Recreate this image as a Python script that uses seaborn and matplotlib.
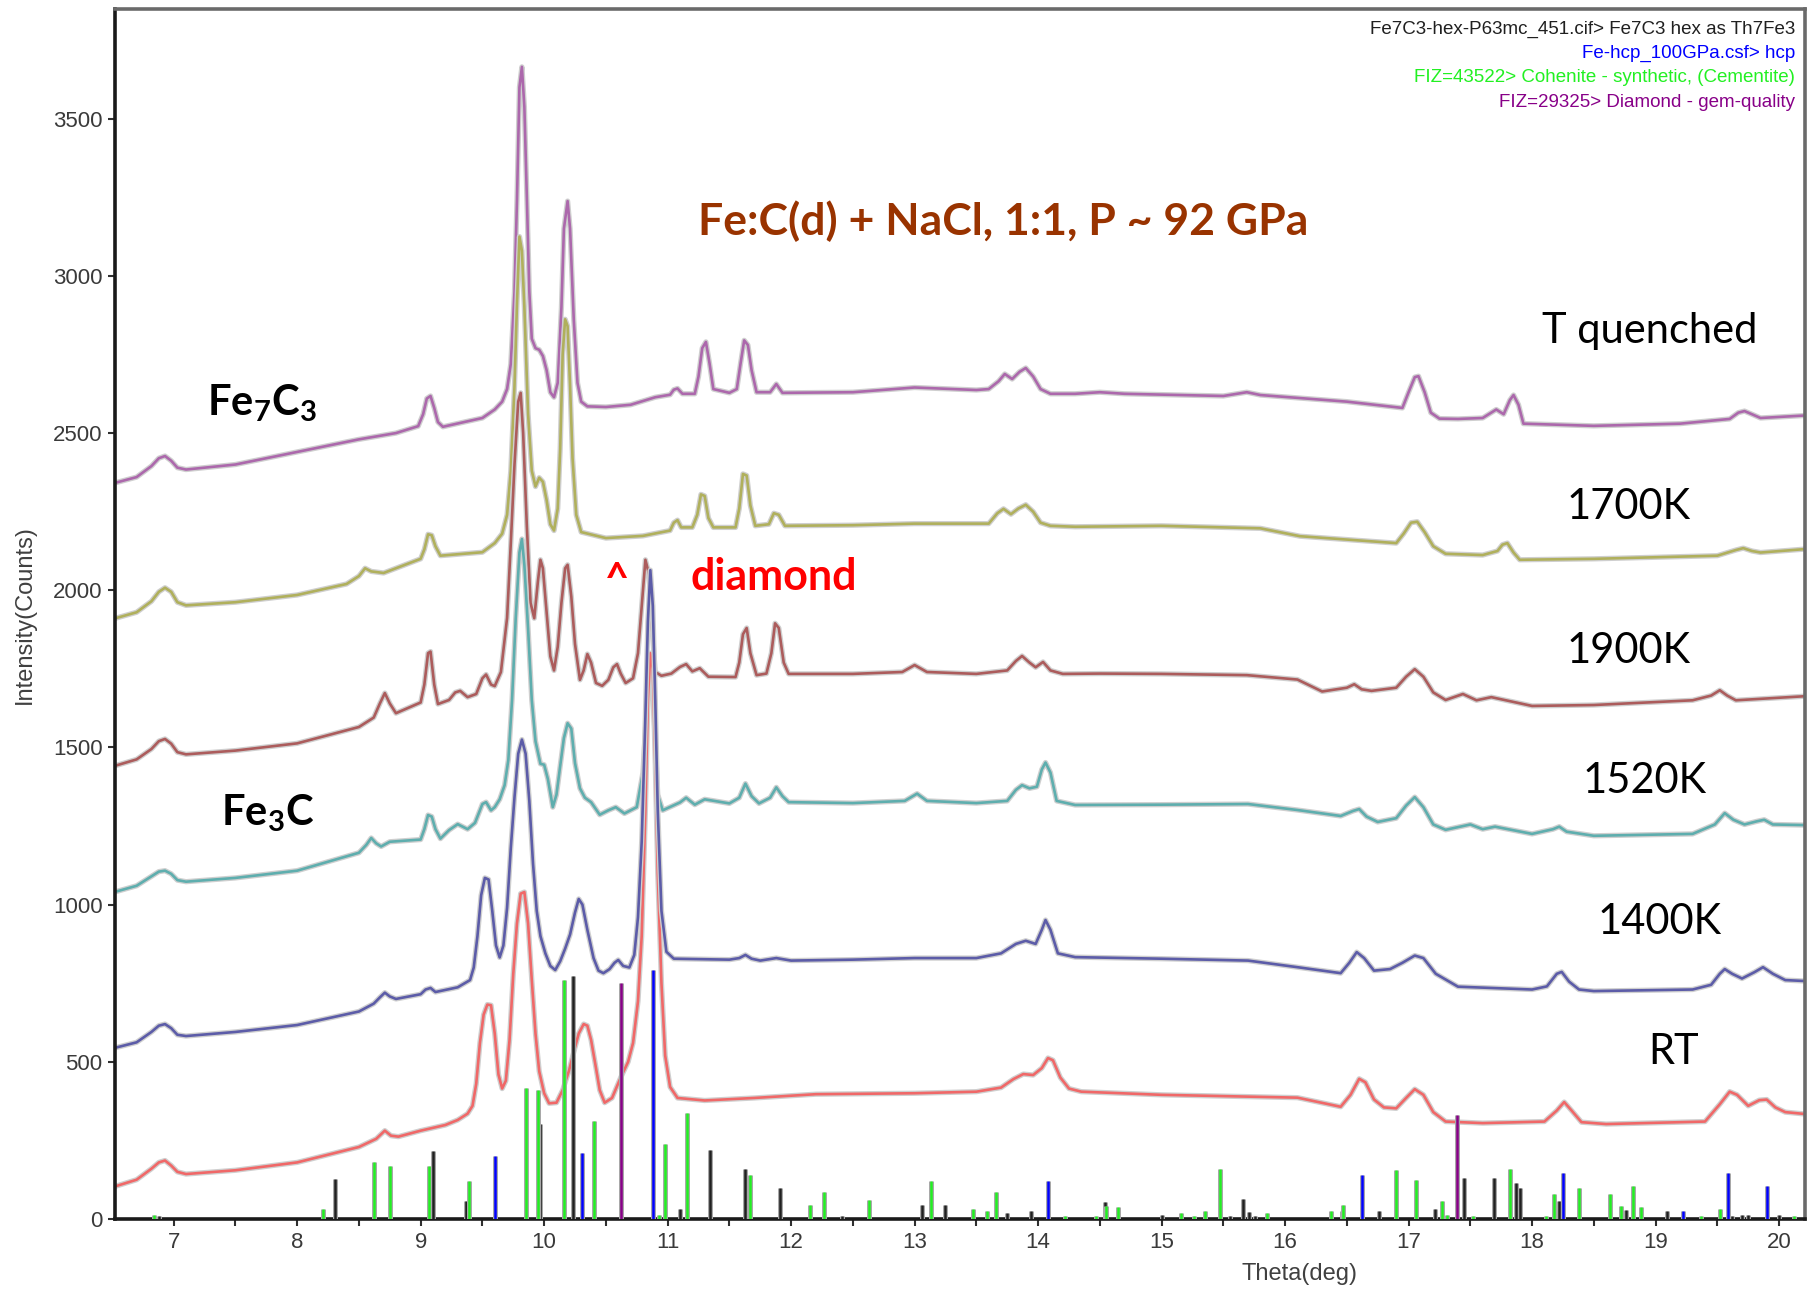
import numpy as np
import pandas as pd
import matplotlib
matplotlib.use("Agg")
import matplotlib.pyplot as plt
import matplotlib.patheffects as pe
from matplotlib.ticker import MultipleLocator
import seaborn as sns

# ---- diffraction scans: (theta [deg], intensity [counts]) ----
t_quenched = [(6.52, 2341), (6.7, 2360), (6.82, 2395), (6.88, 2420), (6.93, 2427), (6.98, 2412),
              (7.03, 2390), (7.1, 2384), (7.5, 2400), (8.0, 2440), (8.5, 2480), (8.8, 2500),
              (8.98, 2522), (9.02, 2560), (9.05, 2610), (9.08, 2618), (9.11, 2580), (9.14, 2535),
              (9.18, 2520), (9.5, 2548), (9.6, 2575), (9.66, 2600), (9.7, 2640), (9.73, 2720),
              (9.76, 2950), (9.78, 3239), (9.8, 3600), (9.82, 3665), (9.84, 3537), (9.86, 3250),
              (9.88, 2950), (9.9, 2800), (9.93, 2770), (9.96, 2765), (9.99, 2745), (10.02, 2700),
              (10.05, 2630), (10.08, 2614), (10.11, 2660), (10.14, 2900), (10.16, 3150), (10.19, 3238),
              (10.21, 3150), (10.24, 2860), (10.27, 2660), (10.3, 2600), (10.35, 2585), (10.5, 2583),
              (10.7, 2590), (10.9, 2614), (11.02, 2622), (11.05, 2638), (11.08, 2642), (11.12, 2625),
              (11.22, 2625), (11.25, 2680), (11.28, 2770), (11.31, 2790), (11.34, 2720), (11.37, 2640),
              (11.5, 2628), (11.56, 2640), (11.59, 2720), (11.62, 2795), (11.65, 2780), (11.68, 2700),
              (11.72, 2630), (11.83, 2630), (11.88, 2656), (11.93, 2628), (12.5, 2630), (13.0, 2645),
              (13.5, 2637), (13.6, 2640), (13.68, 2665), (13.73, 2688), (13.79, 2672), (13.85, 2695),
              (13.9, 2707), (13.96, 2680), (14.02, 2640), (14.1, 2625), (14.3, 2625), (14.5, 2630),
              (14.7, 2625), (15.5, 2618), (15.69, 2630), (15.8, 2621), (16.5, 2600), (16.95, 2580),
              (17.0, 2630), (17.05, 2678), (17.08, 2681), (17.13, 2630), (17.18, 2565), (17.25, 2546),
              (17.4, 2545), (17.6, 2548), (17.71, 2575), (17.77, 2560), (17.82, 2605), (17.85, 2621),
              (17.89, 2590), (17.93, 2530), (18.5, 2523), (19.2, 2530), (19.6, 2545), (19.67, 2565),
              (19.72, 2570), (19.78, 2560), (19.85, 2548), (20.21, 2556)]

scan_1700k = [(6.52, 1910), (6.7, 1930), (6.82, 1965), (6.88, 1995), (6.93, 2008), (6.98, 1995),
              (7.03, 1962), (7.1, 1952), (7.5, 1962), (8.0, 1985), (8.4, 2020), (8.5, 2045),
              (8.55, 2070), (8.6, 2060), (8.7, 2055), (9.0, 2100), (9.03, 2130), (9.06, 2178),
              (9.09, 2175), (9.12, 2140), (9.16, 2110), (9.5, 2121), (9.6, 2150), (9.66, 2180),
              (9.7, 2240), (9.73, 2380), (9.76, 2650), (9.78, 2911), (9.8, 3125), (9.82, 3080),
              (9.84, 2900), (9.87, 2560), (9.9, 2380), (9.93, 2330), (9.96, 2358), (9.99, 2345),
              (10.02, 2287), (10.05, 2210), (10.08, 2190), (10.11, 2260), (10.13, 2450), (10.15, 2750),
              (10.17, 2862), (10.19, 2840), (10.21, 2650), (10.23, 2420), (10.26, 2240), (10.3, 2185),
              (10.5, 2166), (10.8, 2173), (11.02, 2190), (11.05, 2215), (11.08, 2223), (11.11, 2200),
              (11.2, 2200), (11.24, 2240), (11.27, 2305), (11.3, 2300), (11.33, 2230), (11.37, 2200),
              (11.55, 2200), (11.58, 2260), (11.61, 2370), (11.64, 2365), (11.67, 2270), (11.71, 2205),
              (11.82, 2210), (11.86, 2245), (11.9, 2240), (11.95, 2205), (12.5, 2207), (13.0, 2212),
              (13.6, 2212), (13.67, 2245), (13.72, 2259), (13.78, 2242), (13.84, 2260), (13.9, 2272),
              (13.96, 2250), (14.02, 2215), (14.1, 2205), (14.3, 2202), (15.0, 2205), (15.8, 2197),
              (16.12, 2172), (16.9, 2150), (16.96, 2180), (17.02, 2215), (17.07, 2218), (17.13, 2185),
              (17.2, 2140), (17.3, 2116), (17.6, 2112), (17.72, 2125), (17.76, 2145), (17.8, 2150),
              (17.85, 2120), (17.9, 2097), (18.5, 2100), (19.5, 2110), (19.65, 2128), (19.71, 2134),
              (19.78, 2125), (19.85, 2120), (20.21, 2131)]

scan_1900k = [(6.52, 1441), (6.7, 1462), (6.82, 1495), (6.88, 1520), (6.93, 1527), (6.98, 1512),
              (7.03, 1485), (7.1, 1478), (7.5, 1490), (8.0, 1513), (8.5, 1565), (8.62, 1595),
              (8.67, 1640), (8.71, 1673), (8.75, 1640), (8.8, 1609), (9.0, 1643), (9.03, 1700),
              (9.06, 1800), (9.08, 1805), (9.11, 1700), (9.14, 1638), (9.23, 1651), (9.28, 1675),
              (9.32, 1680), (9.38, 1660), (9.45, 1670), (9.5, 1720), (9.53, 1732), (9.57, 1700),
              (9.6, 1695), (9.65, 1740), (9.7, 1912), (9.73, 2150), (9.76, 2400), (9.79, 2600),
              (9.81, 2628), (9.83, 2500), (9.86, 2203), (9.89, 1960), (9.92, 1911), (9.95, 2030),
              (9.97, 2097), (9.99, 2070), (10.02, 1930), (10.05, 1790), (10.08, 1745), (10.11, 1820),
              (10.14, 1960), (10.17, 2070), (10.19, 2081), (10.22, 1980), (10.25, 1829), (10.29, 1715),
              (10.32, 1745), (10.35, 1797), (10.38, 1770), (10.42, 1705), (10.47, 1696), (10.52, 1715),
              (10.56, 1755), (10.59, 1765), (10.62, 1735), (10.66, 1705), (10.72, 1720), (10.76, 1800),
              (10.79, 1950), (10.82, 2097), (10.85, 2050), (10.87, 1900), (10.9, 1740), (10.95, 1728),
              (11.03, 1735), (11.1, 1756), (11.15, 1765), (11.2, 1742), (11.26, 1752), (11.33, 1725),
              (11.55, 1724), (11.58, 1770), (11.61, 1860), (11.64, 1880), (11.67, 1800), (11.72, 1730),
              (11.8, 1735), (11.84, 1800), (11.87, 1895), (11.9, 1880), (11.94, 1770), (11.98, 1734),
              (12.5, 1734), (12.9, 1740), (13.0, 1762), (13.1, 1740), (13.5, 1734), (13.75, 1745),
              (13.82, 1775), (13.87, 1791), (13.93, 1770), (13.98, 1755), (14.04, 1772), (14.1, 1745),
              (14.2, 1734), (14.5, 1735), (15.0, 1734), (15.69, 1730), (16.1, 1716), (16.3, 1678),
              (16.5, 1690), (16.56, 1701), (16.62, 1685), (16.7, 1680), (16.9, 1690), (16.98, 1725),
              (17.05, 1749), (17.12, 1725), (17.2, 1675), (17.3, 1651), (17.44, 1670), (17.55, 1650),
              (17.67, 1660), (18.0, 1632), (18.5, 1635), (19.3, 1650), (19.45, 1665), (19.52, 1682),
              (19.58, 1665), (19.65, 1650), (20.21, 1663)]

scan_1520k = [(6.52, 1040), (6.7, 1060), (6.82, 1090), (6.88, 1105), (6.93, 1108), (6.98, 1098),
              (7.03, 1078), (7.1, 1073), (7.5, 1085), (8.0, 1108), (8.5, 1165), (8.56, 1190),
              (8.6, 1212), (8.64, 1195), (8.68, 1185), (8.75, 1200), (9.0, 1207), (9.03, 1240),
              (9.06, 1285), (9.09, 1280), (9.12, 1240), (9.16, 1210), (9.23, 1237), (9.3, 1256),
              (9.38, 1240), (9.44, 1260), (9.5, 1320), (9.53, 1326), (9.57, 1300), (9.6, 1310),
              (9.64, 1335), (9.68, 1380), (9.71, 1460), (9.74, 1650), (9.77, 1912), (9.8, 2120),
              (9.82, 2163), (9.84, 2080), (9.87, 1878), (9.9, 1650), (9.93, 1520), (9.97, 1448),
              (10.0, 1445), (10.03, 1400), (10.07, 1310), (10.1, 1350), (10.13, 1441), (10.16, 1530),
              (10.19, 1577), (10.22, 1560), (10.25, 1450), (10.29, 1370), (10.33, 1340), (10.38, 1326),
              (10.45, 1286), (10.52, 1300), (10.58, 1310), (10.65, 1290), (10.75, 1310), (10.8, 1420),
              (10.83, 1620), (10.86, 1750), (10.89, 1600), (10.92, 1350), (10.96, 1300), (11.1, 1325),
              (11.15, 1340), (11.22, 1318), (11.3, 1335), (11.5, 1322), (11.58, 1340), (11.63, 1385),
              (11.68, 1345), (11.74, 1322), (11.83, 1340), (11.88, 1373), (11.93, 1345), (11.98, 1326),
              (12.5, 1323), (12.92, 1330), (13.02, 1353), (13.1, 1330), (13.5, 1323), (13.75, 1330),
              (13.82, 1365), (13.87, 1380), (13.93, 1370), (13.99, 1375), (14.03, 1430), (14.06, 1452),
              (14.1, 1420), (14.15, 1330), (14.3, 1317), (15.0, 1318), (15.7, 1320), (16.1, 1301),
              (16.45, 1282), (16.55, 1298), (16.6, 1304), (16.66, 1280), (16.75, 1263), (16.9, 1275),
              (16.98, 1315), (17.05, 1342), (17.12, 1310), (17.2, 1255), (17.3, 1238), (17.5, 1255),
              (17.6, 1240), (17.7, 1248), (18.0, 1225), (18.17, 1240), (18.22, 1248), (18.28, 1232),
              (18.5, 1219), (19.3, 1225), (19.48, 1255), (19.56, 1291), (19.63, 1270), (19.72, 1255),
              (19.82, 1265), (19.88, 1270), (19.95, 1255), (20.21, 1253)]

scan_1400k = [(6.52, 544), (6.7, 562), (6.82, 595), (6.88, 615), (6.93, 620), (6.98, 607),
              (7.03, 586), (7.1, 582), (7.5, 595), (8.0, 617), (8.5, 660), (8.62, 685),
              (8.67, 705), (8.71, 720), (8.75, 708), (8.8, 700), (9.0, 715), (9.04, 730),
              (9.08, 735), (9.12, 722), (9.3, 737), (9.4, 760), (9.43, 800), (9.46, 900),
              (9.49, 1030), (9.52, 1085), (9.55, 1080), (9.58, 980), (9.61, 870), (9.64, 832),
              (9.67, 870), (9.7, 990), (9.73, 1180), (9.76, 1342), (9.79, 1480), (9.82, 1525),
              (9.85, 1480), (9.88, 1330), (9.91, 1130), (9.94, 980), (9.97, 900), (10.01, 845),
              (10.05, 805), (10.09, 792), (10.13, 820), (10.17, 860), (10.21, 905), (10.25, 975),
              (10.28, 1018), (10.31, 1000), (10.35, 920), (10.4, 830), (10.44, 790), (10.48, 782),
              (10.53, 795), (10.57, 815), (10.6, 824), (10.64, 805), (10.69, 800), (10.73, 840),
              (10.76, 960), (10.79, 1200), (10.82, 1600), (10.84, 1900), (10.86, 2064), (10.88, 1950),
              (10.9, 1650), (10.92, 1300), (10.95, 980), (10.99, 850), (11.05, 828), (11.5, 825),
              (11.58, 830), (11.63, 840), (11.68, 828), (11.75, 822), (11.88, 830), (12.0, 822),
              (12.5, 825), (13.0, 830), (13.5, 830), (13.7, 845), (13.82, 875), (13.9, 885),
              (13.98, 875), (14.03, 920), (14.06, 951), (14.1, 920), (14.16, 845), (14.3, 833),
              (15.0, 828), (15.7, 822), (16.1, 801), (16.45, 782), (16.52, 815), (16.58, 849),
              (16.64, 830), (16.72, 790), (16.85, 795), (16.95, 815), (17.05, 838), (17.12, 830),
              (17.22, 780), (17.4, 739), (18.0, 730), (18.12, 740), (18.2, 780), (18.24, 786),
              (18.3, 755), (18.38, 730), (18.5, 725), (19.3, 730), (19.45, 745), (19.52, 780),
              (19.56, 795), (19.62, 780), (19.7, 765), (19.8, 785), (19.87, 801), (19.95, 780),
              (20.05, 760), (20.21, 757)]

scan_rt = [(6.52, 103), (6.7, 125), (6.82, 160), (6.88, 180), (6.93, 186), (6.98, 170),
           (7.03, 150), (7.1, 143), (7.5, 155), (8.0, 180), (8.5, 229), (8.64, 255),
           (8.71, 281), (8.76, 265), (8.82, 262), (9.0, 281), (9.2, 299), (9.3, 315),
           (9.38, 335), (9.42, 360), (9.45, 430), (9.48, 560), (9.51, 650), (9.54, 682),
           (9.57, 680), (9.6, 590), (9.63, 460), (9.66, 415), (9.69, 440), (9.72, 570),
           (9.75, 780), (9.78, 940), (9.81, 1035), (9.84, 1040), (9.87, 940), (9.9, 760),
           (9.93, 590), (9.96, 470), (10.0, 400), (10.04, 368), (10.1, 370), (10.15, 410),
           (10.2, 470), (10.24, 531), (10.28, 590), (10.32, 620), (10.35, 615), (10.38, 570),
           (10.42, 480), (10.45, 410), (10.49, 370), (10.55, 385), (10.62, 450), (10.68, 500),
           (10.72, 560), (10.76, 693), (10.79, 900), (10.82, 1300), (10.84, 1650), (10.86, 1800),
           (10.88, 1750), (10.9, 1450), (10.92, 1100), (10.95, 750), (10.98, 520), (11.02, 420),
           (11.08, 385), (11.3, 377), (11.7, 385), (12.2, 397), (13.0, 400), (13.5, 405),
           (13.7, 418), (13.8, 445), (13.88, 461), (13.96, 458), (14.03, 480), (14.08, 512),
           (14.12, 505), (14.18, 450), (14.25, 415), (14.35, 405), (15.0, 395), (16.1, 386),
           (16.45, 357), (16.53, 395), (16.6, 446), (16.65, 435), (16.72, 380), (16.8, 355),
           (16.9, 352), (16.98, 385), (17.05, 413), (17.12, 395), (17.2, 340), (17.3, 310),
           (17.6, 305), (18.1, 310), (18.2, 345), (18.26, 372), (18.32, 345), (18.4, 308),
           (18.6, 302), (19.4, 310), (19.52, 365), (19.6, 405), (19.66, 395), (19.75, 360),
           (19.84, 378), (19.9, 380), (19.97, 355), (20.05, 340), (20.21, 334)]

scan_names = ["T quenched", "1700K", "1900K", "1520K", "RT", "1400K"]
scan_colors = ["#ac68ac", "#b0b05c", "#ac5c5c", "#5eaeae", "#f06868", "#5c5ca8"]
scan_data = [t_quenched, scan_1700k, scan_1900k, scan_1520k, scan_rt, scan_1400k]

# ---- reference stick patterns: (theta, relative height in counts) ----
fe7c3_sticks = [(8.31, 127), (9.10, 215), (9.37, 58), (9.97, 303), (10.23, 774), (11.10, 32),
                (11.34, 218), (11.63, 159), (11.91, 99), (12.41, 8), (13.06, 46), (13.25, 46),
                (13.75, 19), (13.94, 24), (14.54, 53), (15.0, 12), (15.55, 8), (15.66, 65),
                (15.71, 23), (15.76, 8), (16.46, 24), (16.76, 24), (17.21, 32), (17.45, 130),
                (17.69, 130), (17.87, 115), (17.9, 99), (18.22, 56), (18.38, 10), (18.76, 30),
                (19.09, 24), (19.62, 10), (19.7, 12), (19.75, 12), (20.0, 12), (6.88, 10)]
hcp_sticks = [(9.60, 200), (10.31, 210), (10.88, 792), (14.08, 120), (16.62, 140),
              (18.25, 146), (19.22, 24), (19.59, 146), (19.9, 106)]
cementite_sticks = [(6.84, 12), (8.21, 32), (8.62, 180), (8.75, 168), (9.07, 168), (9.39, 120),
                    (9.85, 416), (9.95, 410), (10.16, 761), (10.40, 312), (10.93, 14), (10.98, 238),
                    (11.16, 337), (11.67, 141), (12.15, 46), (12.27, 86), (12.63, 59), (13.13, 120),
                    (13.47, 32), (13.59, 24), (13.66, 86), (14.22, 11), (14.47, 11), (14.55, 40),
                    (14.65, 38), (15.16, 19), (15.26, 10), (15.35, 24), (15.47, 160), (15.85, 19),
                    (16.37, 24), (16.47, 46), (16.9, 155), (17.06, 125), (17.27, 58), (17.31, 12),
                    (17.52, 8), (17.82, 160), (18.11, 8), (18.18, 81), (18.38, 99), (18.63, 80),
                    (18.72, 40), (18.82, 106), (18.88, 38), (19.37, 10), (19.52, 32), (20.12, 10)]
diamond_sticks = [(10.62, 750), (17.39, 332)]

legend_lines = ["Fe7C3-hex-P63mc_451.cif> Fe7C3 hex as Th7Fe3",
                "Fe-hcp_100GPa.csf> hcp",
                "FIZ=43522> Cohenite - synthetic, (Cementite)",
                "FIZ=29325> Diamond - gem-quality"]
legend_colors = ["#202020", "#0000ff", "#22f022", "#880088"]
stick_sets = [fe7c3_sticks, hcp_sticks, cementite_sticks, diamond_sticks]

# ---- figure ----
sns.set_theme(style="ticks")
plt.rcParams["font.family"] = ["Liberation Sans", "DejaVu Sans"]
plt.rcParams["mathtext.fontset"] = "custom"
plt.rcParams["mathtext.rm"] = "Lato:bold"
plt.rcParams["mathtext.bf"] = "Lato:bold"
plt.rcParams["mathtext.it"] = "Lato:bold"

W, H = 1808, 1290
fig = plt.figure(figsize=(W / 100, H / 100), dpi=100)
ax = fig.add_axes([115 / W, 71 / H, 1690 / W, 1210 / H])

frames = []
for name, pts in zip(scan_names, scan_data):
    arr = np.array(pts, dtype=float)
    frames.append(pd.DataFrame({"theta": arr[:, 0], "counts": arr[:, 1], "scan": name}))
df = pd.concat(frames, ignore_index=True)

sns.lineplot(data=df, x="theta", y="counts", hue="scan", hue_order=scan_names,
             palette=dict(zip(scan_names, scan_colors)), sort=False, estimator=None,
             legend=False, linewidth=1.9, ax=ax)
halo = [pe.Stroke(linewidth=3.8, foreground="#cfcfcf"), pe.Normal()]
for ln in ax.lines:
    ln.set_path_effects(halo)
    ln.set_solid_joinstyle("round")

stick_halo = [pe.Stroke(linewidth=3.6, foreground="#a8a8a8"), pe.Normal()]
for sticks, col in zip(stick_sets, legend_colors):
    arr = np.array(sticks, dtype=float)
    ax.vlines(arr[:, 0], 0, arr[:, 1], colors=col, linewidth=1.8, zorder=5,
              path_effects=stick_halo)

ax.set_xlim(6.525, 20.21)
ax.set_ylim(0, 3849)
ax.set_yticks(np.arange(0, 3501, 500))
ax.xaxis.set_major_locator(MultipleLocator(1))
ax.xaxis.set_minor_locator(MultipleLocator(0.5))
ax.tick_params(axis="both", which="both", direction="out", length=5, width=1.5,
               color="#303030", labelsize=16, labelcolor="#3a3a3a", pad=4)
ax.set_xlabel("")
ax.set_ylabel("")
for side in ["left", "bottom"]:
    ax.spines[side].set_color("#1a1a1a")
    ax.spines[side].set_linewidth(2.6)
for side in ["top", "right"]:
    ax.spines[side].set_visible(True)
    ax.spines[side].set_color("#6a6a6a")
    ax.spines[side].set_linewidth(2.6)


def ftext(x, y, s, **kw):
    fig.text(x / W, 1 - y / H, s, **kw)


ftext(25, 615, "Intensity(Counts)", rotation=90, ha="center", va="center",
      fontsize=17, color="#404040")
ftext(1300, 1274, "Theta(deg)", ha="center", va="center", fontsize=17, color="#404040")

for i, (s, c) in enumerate(zip(legend_lines, legend_colors)):
    ftext(1795, 29 + i * 24.5, s, ha="right", va="center", fontsize=13.5, color=c)

ftext(1003, 221, "Fe:C(d) + NaCl, 1:1, P ~ 92 GPa", ha="center", va="center",
      fontsize=32, fontweight="bold", color="#993300", family=["Lato", "DejaVu Sans"])
ftext(617, 580, "^", ha="center", va="center", fontsize=30, fontweight="bold",
      color="#ff0000", family=["Lato", "DejaVu Sans"])
ftext(774, 577, "diamond", ha="center", va="center", fontsize=31, fontweight="bold",
      color="#ff0000", family=["Lato", "DejaVu Sans"])
ftext(262, 403, r"Fe$_{7}$C$_{3}$", ha="center", va="center", fontsize=30,
      fontweight="bold", color="black", family=["Lato", "DejaVu Sans"])
ftext(268, 813, r"Fe$_{3}$C", ha="center", va="center", fontsize=30,
      fontweight="bold", color="black", family=["Lato", "DejaVu Sans"])

scan_label_pos = {"T quenched": (1650, 331), "1700K": (1629, 507), "1900K": (1629, 651),
                  "1520K": (1645, 781), "1400K": (1660, 922), "RT": (1674, 1052)}
for name, (x, y) in scan_label_pos.items():
    ftext(x, y, name, ha="center", va="center", fontsize=30, color="black",
          family=["Lato", "DejaVu Sans"])

fig.savefig("out.png", dpi=100)
